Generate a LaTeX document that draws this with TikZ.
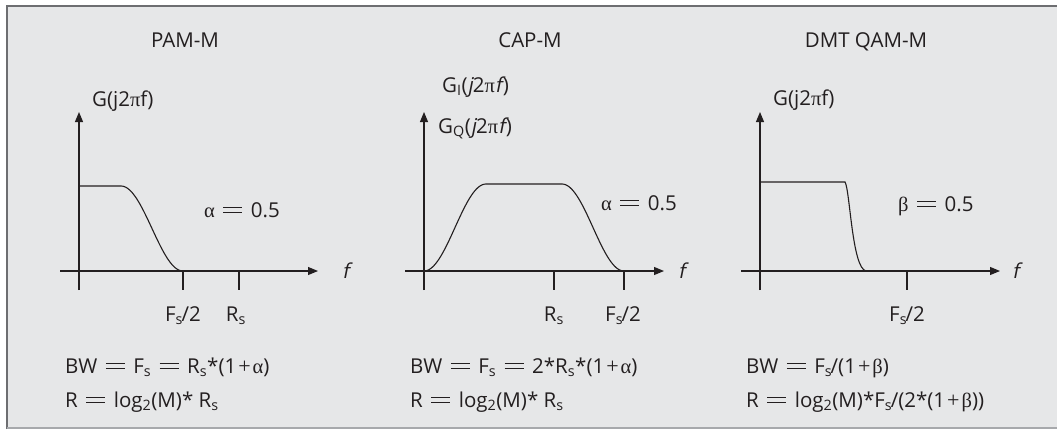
\documentclass[tikz,border=0pt]{standalone}
\usepackage{fontspec}
\setmainfont{Open Sans}[ItalicFont=Open Sans, ItalicFeatures={FakeSlant=0.2}]
\newfontfamily\grk{Liberation Serif}
\usetikzlibrary{arrows.meta}
\definecolor{bg}{HTML}{E6E7E8}
\definecolor{frameA}{HTML}{6D6E71}
\definecolor{frameB}{HTML}{A7A9AC}
\definecolor{ink}{HTML}{231F20}
\newcommand\sbs[1]{\textsubscript{#1}}
\newcommand\eqs{\hspace{8.5pt}\rlap{\raisebox{9.2pt}{\rule{19pt}{1.3pt}}}\raisebox{4.0pt}{\rule{19pt}{1.3pt}}\hspace{8.5pt}}
\newcommand\pls{\hspace{2pt}{\grk\fontsize{22}{24}\selectfont +}\hspace{2pt}}
\tikzset{
 lbl/.style={font=\fontsize{20.5}{24}\selectfont, inner sep=0pt, text=ink},
 axisline/.style={draw=ink, line width=1.1pt, -{Triangle[length=10pt,width=8pt]}},
 tickline/.style={draw=ink, line width=1.1pt},
 curveline/.style={draw=ink, line width=1.1pt},
}
\begin{document}
\begin{tikzpicture}[x=1pt,y=-1pt]
\useasboundingbox (0,0) rectangle (1057,429);
\fill[bg] (7,6) rectangle (1057,428);
\draw[frameA, line width=2pt] (7,429) -- (7,6) -- (1057,6);
\draw[frameB, line width=1.5pt] (7,428) -- (1057,428);

% ---------- Panel 1: PAM-M ----------
\coordinate (yb1) at (79,290);
\coordinate (yt1) at (79,112);
\coordinate (xl1) at (60,271);
\coordinate (xr1) at (318,271);
\coordinate (tfa) at (183,271); \coordinate (tfb) at (183,290);
\coordinate (tra) at (239,271); \coordinate (trb) at (239,290);
\draw[axisline] (yb1) -- (yt1);
\draw[axisline] (xl1) -- (xr1);
\draw[tickline] (tfa) -- (tfb);
\draw[tickline] (tra) -- (trb);
\draw[curveline] (79,186) -- (121,186) -- plot[domain=0:1,samples=40] ({121+62*\x},{186+85*(1-cos(180*\x))/2});
\node[lbl, anchor=base] (t1) at (185,47) {PAM-M};
\node[lbl, anchor=base west] (g1) at (92,106) {G(j2{\grk π}f)};
\node[lbl, anchor=base west] (a1) at (204,217) {{\grk α}\eqs0.5};
\node[lbl, anchor=base] (fs1) at (183,321) {F\sbs{s}\kern-1.5pt/2};
\node[lbl, anchor=base] (rs1) at (236,321) {R\sbs{s}};
\node[lbl, anchor=base west] (f1) at (342,278) {\textit{f}};
\node[lbl, anchor=base west] (bw1) at (65,373) {BW\eqs F\sbs{s}\eqs R\sbs{s}*(1\pls{\grk α})};
\node[lbl, anchor=base west] (r1) at (65,407) {R\eqs log\sbs{2}(M)* R\sbs{s}};

% ---------- Panel 2: CAP-M ----------
\coordinate (yb2) at (424,290);
\coordinate (yt2) at (424,112);
\coordinate (xl2) at (405,271);
\coordinate (xr2) at (664,271);
\coordinate (ura) at (554,271); \coordinate (urb) at (554,290);
\coordinate (ufa) at (624,271); \coordinate (ufb) at (624,290);
\draw[axisline] (yb2) -- (yt2);
\draw[axisline] (xl2) -- (xr2);
\draw[tickline] (ura) -- (urb);
\draw[tickline] (ufa) -- (ufb);
\draw[curveline] plot[domain=0:1,samples=40] ({424+62*\x},{271-87*(1-cos(180*\x))/2})
  -- (562,184) -- plot[domain=0:1,samples=40] ({562+62*\x},{184+87*(1-cos(180*\x))/2});
\node[lbl, anchor=base] (t2) at (530,47) {CAP-M};
\node[lbl, anchor=base west] (gi2) at (442,92) {G\sbs{I}(\textit{j}2{\grk π}\textit{f})};
\node[lbl, anchor=base west] (gq2) at (438,133) {G\sbs{Q}(\textit{j}2{\grk π}\textit{f})};
\node[lbl, anchor=base west] (a2) at (601,210) {{\grk α}\eqs0.5};
\node[lbl, anchor=base] (rs2) at (554,321) {R\sbs{s}};
\node[lbl, anchor=base] (fs2) at (623,321) {F\sbs{s}\kern-1.5pt/2};
\node[lbl, anchor=base west] (f2) at (678,278) {\textit{f}};
\node[lbl, anchor=base west] (bw2) at (410,373) {BW\eqs F\sbs{s}\eqs 2*R\sbs{s}*(1\pls{\grk α})};
\node[lbl, anchor=base west] (r2) at (410,407) {R\eqs log\sbs{2}(M)* R\sbs{s}};

% ---------- Panel 3: DMT QAM-M ----------
\coordinate (yb3) at (760,290);
\coordinate (yt3) at (760,112);
\coordinate (xl3) at (741,271);
\coordinate (xr3) at (1000,271);
\coordinate (vfa) at (907,271); \coordinate (vfb) at (907,290);
\draw[axisline] (yb3) -- (yt3);
\draw[axisline] (xl3) -- (xr3);
\draw[tickline] (vfa) -- (vfb);
\draw[curveline] (760,182) -- (845,182) .. controls (850,190) and (852,268) .. (866,271);
\node[lbl, anchor=base] (t3) at (866,47) {DMT QAM-M};
\node[lbl, anchor=base west] (g3) at (773,105) {G(j2{\grk π}f)};
\node[lbl, anchor=base west] (b3) at (898,211) {{\grk β}\eqs0.5};
\node[lbl, anchor=base] (fs3) at (907,321) {F\sbs{s}\kern-1.5pt/2};
\node[lbl, anchor=base west] (f3) at (1012,278) {\textit{f}};
\node[lbl, anchor=base west] (bw3) at (746,373) {BW\eqs F\sbs{s}\kern-1.5pt/(1\pls{\grk β})};
\node[lbl, anchor=base west] (r3) at (746,407) {R\eqs log\sbs{2}(M)*F\sbs{s}\kern-1.5pt/(2*(1\pls{\grk β}))};
\end{tikzpicture}
\end{document}
